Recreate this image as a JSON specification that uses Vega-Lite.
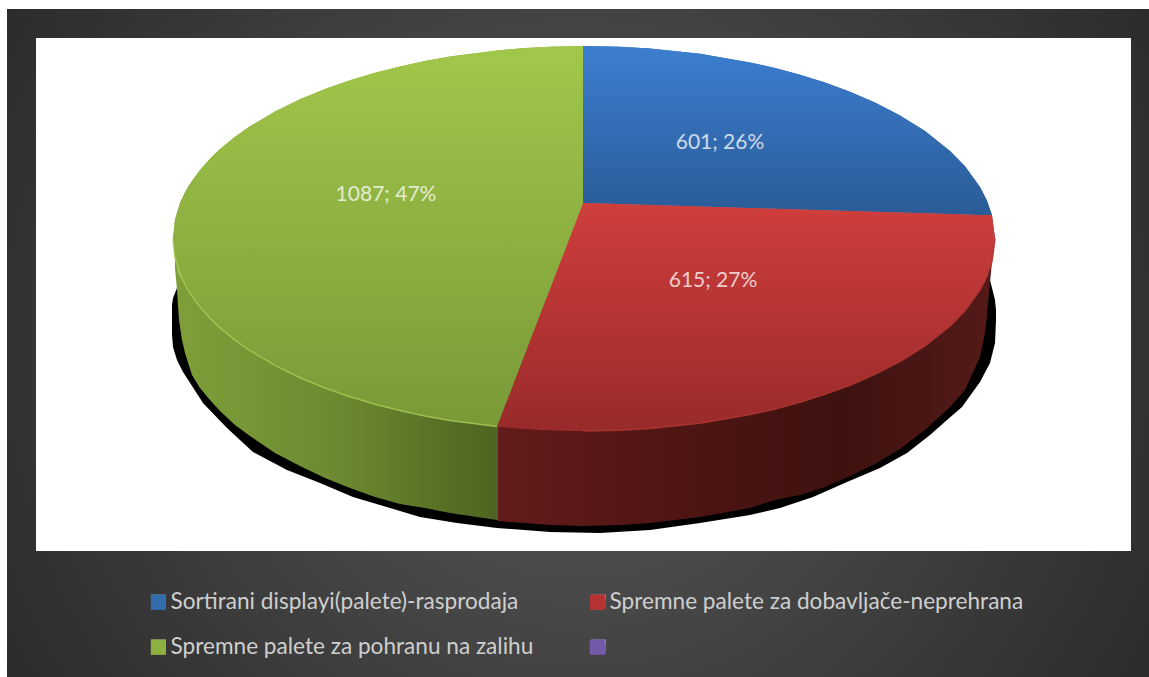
{"$schema":"https://vega.github.io/schema/vega-lite/v6.json","width":1149,"height":677,"padding":0,"autosize":"none","background":"white","config":{"view":{"stroke":null},"font":"Lato"},
"datasets":{
"panels":[{"part":"frame","x":7,"x2":1149,"y":9,"y2":677},{"part":"plot","x":36,"x2":1131,"y":38,"y2":551}],
"swatches":[{"name":"Sortirani displayi(palete)-rasprodaja","x":158.5,"y":602},{"name":"Spremne palete za dobavljače-neprehrana","x":598.5,"y":602},{"name":"Spremne palete za pohranu na zalihu","x":158.5,"y":647},{"name":" ","x":598.5,"y":647}],
"shadow":[{"x":172,"y":305,"y2":335},{"x":173,"y":298,"y2":347},{"x":177,"y":288,"y2":360},{"x":183,"y":285,"y2":372},{"x":203,"y":300,"y2":403},{"x":227,"y":300,"y2":428},{"x":253,"y":300,"y2":452},{"x":287,"y":300,"y2":470},{"x":320,"y":300,"y2":483},{"x":353,"y":300,"y2":497},{"x":390,"y":300,"y2":508},{"x":420,"y":300,"y2":517},{"x":457,"y":300,"y2":523},{"x":497,"y":300,"y2":528},{"x":550,"y":300,"y2":532},{"x":600,"y":300,"y2":533},{"x":650,"y":300,"y2":530},{"x":700,"y":300,"y2":523},{"x":750,"y":300,"y2":515},{"x":780,"y":300,"y2":508},{"x":813,"y":300,"y2":497},{"x":847,"y":300,"y2":482},{"x":880,"y":300,"y2":468},{"x":907,"y":300,"y2":453},{"x":930,"y":300,"y2":435},{"x":947,"y":300,"y2":420},{"x":962,"y":300,"y2":407},{"x":980,"y":290,"y2":382},{"x":990,"y":280,"y2":363},{"x":995,"y":300,"y2":343},{"x":996,"y":310,"y2":320}],
"sideGreen":[{"x":175,"y":257,"y2":268},{"x":177,"y":265,"y2":290},{"x":179,"y":274,"y2":320},{"x":182,"y":279,"y2":340},{"x":185,"y":284.7,"y2":353},{"x":192,"y":296,"y2":375},{"x":200,"y":307.1,"y2":388},{"x":210,"y":318.3,"y2":400},{"x":220,"y":327.9,"y2":411},{"x":235,"y":340.2,"y2":425},{"x":250,"y":350.7,"y2":436},{"x":275,"y":365.4,"y2":453},{"x":300,"y":377.7,"y2":466},{"x":325,"y":388,"y2":478},{"x":350,"y":396.8,"y2":488},{"x":375,"y":404.3,"y2":497},{"x":400,"y":410.6,"y2":504},{"x":425,"y":416,"y2":508},{"x":450,"y":420.5,"y2":513},{"x":497,"y":426.6,"y2":520},{"x":499,"y":426.8,"y2":521}],
"sideRed":[{"x":498,"y":426.6,"y2":521},{"x":525,"y":429,"y2":523},{"x":550,"y":430.3,"y2":525},{"x":583,"y":431,"y2":526},{"x":620,"y":430.3,"y2":525},{"x":650,"y":428.5,"y2":523},{"x":700,"y":423.2,"y2":517},{"x":750,"y":414.6,"y2":508},{"x":775,"y":409,"y2":500},{"x":800,"y":402.3,"y2":495},{"x":825,"y":394.4,"y2":487},{"x":850,"y":385.3,"y2":476},{"x":875,"y":374.4,"y2":464},{"x":900,"y":361.6,"y2":449},{"x":925,"y":346,"y2":430},{"x":950,"y":326.1,"y2":407},{"x":965,"y":310.7,"y2":390},{"x":980,"y":290,"y2":357},{"x":985,"y":281,"y2":333},{"x":987,"y":276.3,"y2":315},{"x":990,"y":268,"y2":282},{"x":992,"y":261.7,"y2":262}],
"tops":[
{"name":"Spremne palete za pohranu na zalihu","x":173,"y":238.5,"y2":238.5},{"name":"Spremne palete za pohranu na zalihu","x":175,"y":219.5,"y2":257.5},{"name":"Spremne palete za pohranu na zalihu","x":180,"y":203.1,"y2":273.9},{"name":"Spremne palete za pohranu na zalihu","x":185,"y":192.3,"y2":284.7},{"name":"Spremne palete za pohranu na zalihu","x":190,"y":183.7,"y2":293.3},{"name":"Spremne palete za pohranu na zalihu","x":200,"y":169.9,"y2":307.1},{"name":"Spremne palete za pohranu na zalihu","x":210,"y":158.7,"y2":318.3},{"name":"Spremne palete za pohranu na zalihu","x":220,"y":149.1,"y2":327.9},{"name":"Spremne palete za pohranu na zalihu","x":235,"y":136.8,"y2":340.2},{"name":"Spremne palete za pohranu na zalihu","x":250,"y":126.3,"y2":350.7},{"name":"Spremne palete za pohranu na zalihu","x":275,"y":111.6,"y2":365.4},{"name":"Spremne palete za pohranu na zalihu","x":300,"y":99.3,"y2":377.7},{"name":"Spremne palete za pohranu na zalihu","x":325,"y":89,"y2":388},{"name":"Spremne palete za pohranu na zalihu","x":350,"y":80.2,"y2":396.8},{"name":"Spremne palete za pohranu na zalihu","x":375,"y":72.7,"y2":404.3},{"name":"Spremne palete za pohranu na zalihu","x":400,"y":66.4,"y2":410.6},{"name":"Spremne palete za pohranu na zalihu","x":425,"y":61,"y2":416},{"name":"Spremne palete za pohranu na zalihu","x":450,"y":56.5,"y2":420.5},{"name":"Spremne palete za pohranu na zalihu","x":497,"y":50.4,"y2":426.6},{"name":"Spremne palete za pohranu na zalihu","x":525,"y":48,"y2":353.8},{"name":"Spremne palete za pohranu na zalihu","x":550,"y":46.7,"y2":288.8},{"name":"Spremne palete za pohranu na zalihu","x":583,"y":46,"y2":203},
{"name":"Sortirani displayi(palete)-rasprodaja","x":583,"y":46,"y2":203},{"name":"Sortirani displayi(palete)-rasprodaja","x":620,"y":46.7,"y2":204.1},{"name":"Sortirani displayi(palete)-rasprodaja","x":650,"y":48.5,"y2":205},{"name":"Sortirani displayi(palete)-rasprodaja","x":700,"y":53.8,"y2":206.5},{"name":"Sortirani displayi(palete)-rasprodaja","x":750,"y":62.4,"y2":208},{"name":"Sortirani displayi(palete)-rasprodaja","x":775,"y":68,"y2":208.8},{"name":"Sortirani displayi(palete)-rasprodaja","x":800,"y":74.7,"y2":209.5},{"name":"Sortirani displayi(palete)-rasprodaja","x":825,"y":82.6,"y2":210.3},{"name":"Sortirani displayi(palete)-rasprodaja","x":850,"y":91.7,"y2":211},{"name":"Sortirani displayi(palete)-rasprodaja","x":875,"y":102.6,"y2":211.8},{"name":"Sortirani displayi(palete)-rasprodaja","x":900,"y":115.4,"y2":212.5},{"name":"Sortirani displayi(palete)-rasprodaja","x":925,"y":131,"y2":213.3},{"name":"Sortirani displayi(palete)-rasprodaja","x":950,"y":150.9,"y2":214},{"name":"Sortirani displayi(palete)-rasprodaja","x":965,"y":166.3,"y2":214.5},{"name":"Sortirani displayi(palete)-rasprodaja","x":980,"y":187,"y2":214.9},{"name":"Sortirani displayi(palete)-rasprodaja","x":987,"y":200.7,"y2":215.1},{"name":"Sortirani displayi(palete)-rasprodaja","x":992,"y":215.3,"y2":215.3},
{"name":"Spremne palete za dobavljače-neprehrana","x":497,"y":426.6,"y2":426.6},{"name":"Spremne palete za dobavljače-neprehrana","x":525,"y":353.8,"y2":429},{"name":"Spremne palete za dobavljače-neprehrana","x":550,"y":288.8,"y2":430.3},{"name":"Spremne palete za dobavljače-neprehrana","x":583,"y":203,"y2":431},{"name":"Spremne palete za dobavljače-neprehrana","x":620,"y":204.1,"y2":430.3},{"name":"Spremne palete za dobavljače-neprehrana","x":650,"y":205,"y2":428.5},{"name":"Spremne palete za dobavljače-neprehrana","x":700,"y":206.5,"y2":423.2},{"name":"Spremne palete za dobavljače-neprehrana","x":750,"y":208,"y2":414.6},{"name":"Spremne palete za dobavljače-neprehrana","x":775,"y":208.8,"y2":409},{"name":"Spremne palete za dobavljače-neprehrana","x":800,"y":209.5,"y2":402.3},{"name":"Spremne palete za dobavljače-neprehrana","x":825,"y":210.3,"y2":394.4},{"name":"Spremne palete za dobavljače-neprehrana","x":850,"y":211,"y2":385.3},{"name":"Spremne palete za dobavljače-neprehrana","x":875,"y":211.8,"y2":374.4},{"name":"Spremne palete za dobavljače-neprehrana","x":900,"y":212.5,"y2":361.6},{"name":"Spremne palete za dobavljače-neprehrana","x":925,"y":213.3,"y2":346},{"name":"Spremne palete za dobavljače-neprehrana","x":950,"y":214,"y2":326.1},{"name":"Spremne palete za dobavljače-neprehrana","x":965,"y":214.5,"y2":310.7},{"name":"Spremne palete za dobavljače-neprehrana","x":980,"y":214.9,"y2":290},{"name":"Spremne palete za dobavljače-neprehrana","x":987,"y":215.1,"y2":276.3},{"name":"Spremne palete za dobavljače-neprehrana","x":992,"y":215.3,"y2":261.7},{"name":"Spremne palete za dobavljače-neprehrana","x":995,"y":238.5,"y2":238.5}],
"labels":[{"value":601,"share":26,"label":"601; 26%","x":720,"y":143},{"value":615,"share":27,"label":"615; 27%","x":713,"y":281},{"value":1087,"share":47,"label":"1087; 47%","x":386,"y":195}]
},
"encoding":{
"x":{"field":"x","type":"quantitative","axis":null,"scale":{"domain":[0,1149],"nice":false,"zero":false}},
"y":{"field":"y","type":"quantitative","axis":null,"stack":null,"scale":{"domain":[0,677],"reverse":true,"nice":false,"zero":false}}
},
"layer":[
{"data":{"name":"panels"},"transform":[{"filter":"datum.part==='frame'"}],"mark":{"type":"rect","fill":{"gradient":"radial","x1":0.5,"y1":0.5,"r1":0,"x2":0.5,"y2":0.5,"r2":0.66,"stops":[{"offset":0,"color":"#5a5a5a"},{"offset":1,"color":"#252525"}]}},"encoding":{"x2":{"field":"x2"},"y2":{"field":"y2"}}},
{"data":{"name":"panels"},"transform":[{"filter":"datum.part==='plot'"}],"mark":{"type":"rect","fill":"#ffffff"},"encoding":{"x2":{"field":"x2"},"y2":{"field":"y2"}}},
{"data":{"name":"shadow"},"mark":{"type":"area","orient":"vertical","fill":"#000000"},"encoding":{"y2":{"field":"y2"}}},
{"data":{"name":"sideGreen"},"mark":{"type":"area","orient":"vertical","fill":{"gradient":"linear","x1":0,"y1":0,"x2":1,"y2":0,"stops":[{"offset":0,"color":"#7f9f3a"},{"offset":0.5,"color":"#6c8a30"},{"offset":1,"color":"#4d6320"}]}},"encoding":{"y2":{"field":"y2"}}},
{"data":{"name":"sideRed"},"mark":{"type":"area","orient":"vertical","fill":{"gradient":"linear","x1":0,"y1":0,"x2":1,"y2":0,"stops":[{"offset":0,"color":"#641b1b"},{"offset":0.35,"color":"#4f1514"},{"offset":0.7,"color":"#3e120f"},{"offset":1,"color":"#541a18"}]}},"encoding":{"y2":{"field":"y2"}}},
{"data":{"name":"tops"},"mark":{"type":"area","orient":"vertical"},"encoding":{"y2":{"field":"y2"},
"color":{"field":"name","type":"nominal","sort":null,"scale":{"domain":["Sortirani displayi(palete)-rasprodaja","Spremne palete za pohranu na zalihu","Spremne palete za dobavljače-neprehrana"," "],"range":["#336dab","#8db041","#b53433","#7359a8"]},
"legend":{"title":null,"orient":"none","legendX":147,"legendY":591,"columns":2,"gridAlign":"all","symbolType":"square","symbolSize":225,"symbolStrokeWidth":0,"symbolOpacity":0,"labelFont":"Lato","labelFontSize":22.6,"labelColor":"#cfcfcf","labelLimit":600,"labelOffset":1,"rowPadding":22,"columnPadding":1,"padding":0}}}},
{"data":{"name":"swatches"},"mark":{"type":"point","shape":"square","filled":true,"size":225,"opacity":1},"encoding":{"color":{"field":"name","type":"nominal","sort":null}}},
{"data":{"name":"swatches"},"mark":{"type":"point","shape":"square","filled":true,"size":225,"opacity":1,"fill":{"gradient":"linear","x1":0,"y1":0,"x2":0,"y2":1,"stops":[{"offset":0,"color":"rgba(255,255,255,0.28)"},{"offset":0.5,"color":"rgba(255,255,255,0)"},{"offset":1,"color":"rgba(0,0,0,0.3)"}]}}},
{"data":{"name":"tops"},"transform":[{"filter":"datum.name==='Sortirani displayi(palete)-rasprodaja'"}],"mark":{"type":"area","orient":"vertical","fill":{"gradient":"linear","x1":0,"y1":0,"x2":0,"y2":1,"stops":[{"offset":0,"color":"#3c7ed0"},{"offset":1,"color":"#2a5b97"}]}},"encoding":{"y2":{"field":"y2"}}},
{"data":{"name":"tops"},"transform":[{"filter":"datum.name==='Spremne palete za dobavljače-neprehrana'"}],"mark":{"type":"area","orient":"vertical","fill":{"gradient":"linear","x1":0,"y1":0,"x2":0,"y2":1,"stops":[{"offset":0,"color":"#cf3e3c"},{"offset":1,"color":"#992a2a"}]}},"encoding":{"y2":{"field":"y2"}}},
{"data":{"name":"tops"},"transform":[{"filter":"datum.name==='Spremne palete za pohranu na zalihu'"}],"mark":{"type":"area","orient":"vertical","fill":{"gradient":"linear","x1":0,"y1":0,"x2":0,"y2":1,"stops":[{"offset":0,"color":"#a1c74a"},{"offset":1,"color":"#799938"}]}},"encoding":{"y2":{"field":"y2"}}},
{"data":{"name":"tops"},"transform":[{"filter":"datum.name==='Spremne palete za pohranu na zalihu' && datum.x<=497"}],"mark":{"type":"line","stroke":"#a3c750","strokeWidth":1.5,"opacity":0.9},"encoding":{"y":{"field":"y2","type":"quantitative"}}},
{"data":{"name":"tops"},"transform":[{"filter":"datum.name==='Spremne palete za dobavljače-neprehrana' && datum.x>=583"}],"mark":{"type":"line","stroke":"#ad3533","strokeWidth":1.5,"opacity":0.9},"encoding":{"y":{"field":"y2","type":"quantitative"}}},
{"data":{"name":"labels"},"mark":{"type":"text","font":"Lato","fontSize":21,"fill":"#ffffff","opacity":0.75,"align":"center","baseline":"middle"},"encoding":{"text":{"field":"label","type":"nominal"}}}
]}
